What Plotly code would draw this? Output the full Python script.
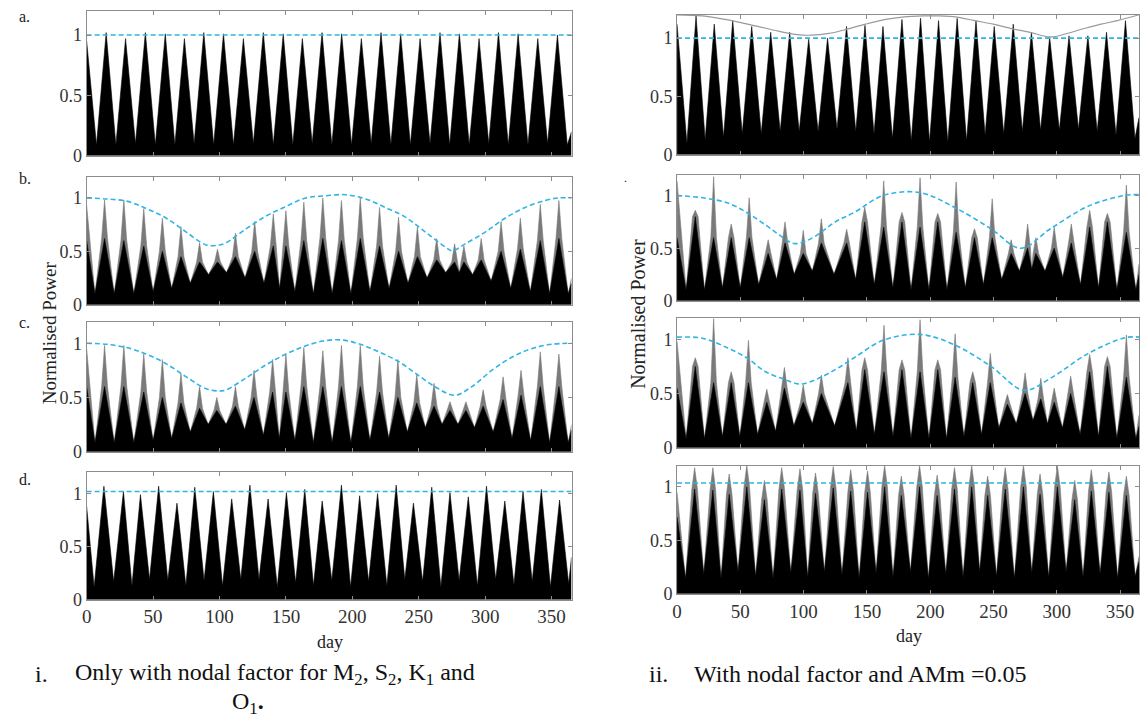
import plotly.graph_objects as go

W, H = 1143, 728
SERIF = "Liberation Serif, Times New Roman, Times, serif"
FRAME = "#8c8c8c"
SPIKE = "#7a7a7a"
CYAN = "#2fb4e6"
DAY_END = 365
SPIKE_HALF_WIDTH = 2.2   # days either side of a spring peak where the grey spike starts

# ---------------- i. nodal factor only ----------------
# a. spring-tide peaks, neap lows (before first, between peaks, after last)
ia_days = [14.7, 29.3, 44.2, 59.2, 73.6, 88.2, 103.0, 118.0, 133.0, 148.0, 162.4, 177.2,
           192.0, 206.8, 221.6, 236.4, 251.0, 266.0, 280.6, 295.4, 310.0, 324.8, 339.6, 354.4]
ia_peak = [1.02, 0.97, 1.02, 1.01, 0.97, 1.02, 1.01, 0.97, 1.02, 1.01, 0.97, 1.02,
           1.01, 0.97, 1.02, 1.01, 0.97, 1.02, 1.01, 0.97, 1.02, 1.01, 0.97, 1.0]
ia_low = [0.09, 0.09, 0.1, 0.09, 0.09, 0.1, 0.09, 0.09, 0.1, 0.09, 0.09, 0.1, 0.09,
          0.09, 0.1, 0.09, 0.09, 0.1, 0.09, 0.09, 0.1, 0.09, 0.09, 0.1, 0.09]
ia_edges = [0.95, 0.2]
ia_level = 1.0

# b.
ib_days = [13.5, 28.0, 43.0, 57.0, 71.0, 85.0, 98.5, 112.0, 126.5, 140.5, 150.0, 163.5, 177.8,
           191.8, 206.0, 220.5, 234.8, 249.0, 263.5, 277.0, 284.0, 297.0, 312.0, 326.5, 341.5, 355.5]
ib_top = [0.98, 0.98, 0.90, 0.81, 0.73, 0.58, 0.52, 0.67, 0.78, 0.85, 0.88, 0.96, 1.0,
          0.975, 1.0, 0.91, 0.82, 0.73, 0.62, 0.57, 0.55, 0.62, 0.78, 0.81, 0.94, 0.975]
ib_core = [0.62, 0.6, 0.55, 0.5, 0.45, 0.4, 0.4, 0.45, 0.5, 0.55, 0.55, 0.6, 0.62,
           0.6, 0.62, 0.55, 0.5, 0.45, 0.42, 0.4, 0.4, 0.42, 0.5, 0.52, 0.6, 0.62]
ib_low = [0.1, 0.1, 0.1, 0.12, 0.15, 0.2, 0.28, 0.3, 0.25, 0.2, 0.15, 0.12, 0.1, 0.1,
          0.1, 0.12, 0.15, 0.2, 0.25, 0.3, 0.3, 0.28, 0.22, 0.15, 0.12, 0.1, 0.1]
ib_edges_top = [0.93, 0.25]
ib_edges_core = [0.6, 0.2]
ib_env_days = [0, 15, 30, 45, 60, 75, 90, 100, 105, 120, 135, 150, 165, 180, 195, 210,
               225, 240, 255, 270, 275, 285, 300, 315, 330, 345, 355, 365]
ib_env = [1.0, 0.99, 0.97, 0.90, 0.81, 0.68, 0.56, 0.56, 0.58, 0.71, 0.83, 0.92, 1.0, 1.02,
          1.03, 0.99, 0.91, 0.82, 0.68, 0.54, 0.505, 0.57, 0.68, 0.81, 0.91, 0.975, 1.0, 1.0]

# c.
ic_days = [13.5, 28.0, 43.0, 57.0, 71.0, 85.0, 98.0, 112.0, 126.0, 140.0, 150.0, 163.5, 177.8,
           191.8, 206.0, 220.5, 234.3, 248.5, 261.5, 273.5, 285.5, 298.5, 313.5, 327.0, 341.5, 355.5]
ic_top = [0.98, 0.98, 0.90, 0.85, 0.72, 0.60, 0.50, 0.60, 0.75, 0.85, 0.90, 0.96, 0.93,
          0.98, 0.98, 0.88, 0.85, 0.71, 0.63, 0.46, 0.46, 0.57, 0.69, 0.75, 0.92, 0.90]
ic_core = [0.6, 0.6, 0.55, 0.5, 0.45, 0.4, 0.38, 0.42, 0.5, 0.55, 0.55, 0.6, 0.6,
           0.6, 0.6, 0.55, 0.5, 0.45, 0.42, 0.38, 0.38, 0.42, 0.48, 0.52, 0.6, 0.6]
ic_low = [0.08, 0.08, 0.08, 0.1, 0.12, 0.18, 0.25, 0.25, 0.2, 0.15, 0.12, 0.1, 0.08, 0.08,
          0.08, 0.1, 0.12, 0.18, 0.22, 0.25, 0.25, 0.22, 0.18, 0.12, 0.1, 0.08, 0.08]
ic_edges_top = [0.95, 0.25]
ic_edges_core = [0.6, 0.2]
ic_env_days = [0, 15, 30, 45, 60, 75, 90, 100, 105, 120, 135, 150, 163.5, 177.8, 191.8, 206,
               220, 235, 249, 263.5, 277, 290, 305, 320, 335, 350, 365]
ic_env = [1.0, 0.99, 0.96, 0.90, 0.81, 0.69, 0.58, 0.56, 0.57, 0.68, 0.80, 0.90, 0.97, 1.02,
          1.03, 0.99, 0.92, 0.83, 0.71, 0.59, 0.52, 0.60, 0.75, 0.87, 0.95, 0.99, 1.0]

# d.
id_days = [13.0, 27.7, 40.5, 54.2, 68.0, 81.4, 95.4, 109.2, 122.9, 136.6, 150.4, 164.2, 177.3,
           191.8, 205.5, 219.0, 233.0, 246.0, 259.8, 273.5, 287.3, 301.0, 314.8, 328.5, 342.3, 356.0]
id_peak = [1.07, 1.02, 0.99, 1.07, 0.91, 1.06, 1.02, 0.95, 1.08, 0.95, 1.01, 1.04, 0.93,
           1.08, 0.98, 1.0, 1.08, 0.91, 1.06, 1.01, 0.97, 1.07, 0.93, 1.02, 1.04, 0.94]
id_low = [0.12, 0.17, 0.13, 0.19, 0.18, 0.13, 0.18, 0.13, 0.19, 0.19, 0.12, 0.16, 0.13, 0.18,
          0.12, 0.17, 0.13, 0.19, 0.17, 0.12, 0.18, 0.13, 0.19, 0.14, 0.17, 0.12, 0.15]
id_edges = [0.88, 0.4]
id_level = 1.02

# ---------------- ii. nodal factor and AMm = 0.05 ----------------
iia_days = [15.0, 29.4, 44.0, 59.0, 74.0, 89.0, 104.0, 118.9, 133.9, 148.5, 162.7, 177.7,
            192.4, 206.6, 221.3, 236.2, 250.6, 265.6, 280.0, 294.4, 309.7, 324.6, 339.3, 354.3]
iia_peak = [1.19, 1.12, 1.15, 1.1, 1.05, 1.05, 0.99, 1.0, 1.1, 1.11, 1.1, 1.16,
            1.17, 1.15, 1.17, 1.15, 1.1, 1.12, 1.05, 1.01, 1.02, 1.02, 1.05, 1.15]
iia_low = [0.1, 0.13, 0.15, 0.18, 0.18, 0.2, 0.2, 0.2, 0.22, 0.2, 0.18, 0.14, 0.12,
           0.11, 0.11, 0.12, 0.17, 0.18, 0.2, 0.21, 0.21, 0.22, 0.2, 0.17, 0.14]
iia_edges = [1.12, 0.32]
iia_level = 1.0
iia_trend_days = [0, 20, 38, 60, 80, 95, 106, 120, 132, 149, 165, 178, 195, 207, 221, 235,
                  250, 265, 279, 295, 308, 321, 335, 348, 365]
iia_trend = [1.2, 1.19, 1.16, 1.11, 1.06, 1.03, 1.025, 1.04, 1.07, 1.12, 1.16, 1.18, 1.19,
             1.19, 1.18, 1.15, 1.12, 1.08, 1.05, 1.01, 1.04, 1.08, 1.12, 1.15, 1.2]

iib_days = [14.4, 28.9, 42.8, 57.0, 72.0, 85.3, 99.7, 114.0, 134.0, 148.3, 163.3, 177.7, 192.0,
            206.0, 220.5, 235.0, 249.0, 264.0, 277.0, 283.5, 298.0, 311.5, 326.0, 340.0, 355.0]
iib_top = [0.86, 1.18, 0.73, 0.98, 0.58, 0.75, 0.67, 0.78, 0.68, 0.89, 1.14, 0.84, 1.17,
           0.83, 1.13, 0.685, 0.97, 0.58, 0.73, 0.6, 0.7, 0.73, 0.86, 0.83, 1.1]
iib_core = [0.8, 0.6, 0.6, 0.6, 0.45, 0.55, 0.45, 0.55, 0.55, 0.75, 0.7, 0.75, 0.7,
            0.75, 0.65, 0.6, 0.6, 0.45, 0.5, 0.45, 0.5, 0.55, 0.7, 0.75, 0.65]
iib_low = [0.1, 0.1, 0.12, 0.12, 0.15, 0.2, 0.25, 0.28, 0.25, 0.2, 0.15, 0.12, 0.1, 0.1,
           0.1, 0.12, 0.15, 0.2, 0.28, 0.3, 0.28, 0.22, 0.15, 0.12, 0.1, 0.1]
iib_edges_top = [1.14, 0.35]
iib_edges_core = [0.6, 0.25]
iib_env_days = [0, 20, 40, 55, 70, 85, 92, 100, 110, 125, 140, 162.7, 191.5, 219, 248,
                271.6, 295, 325, 353, 365]
iib_env = [1.0, 0.98, 0.93, 0.84, 0.72, 0.59, 0.545, 0.56, 0.62, 0.75, 0.84, 1.0, 1.03,
           0.89, 0.685, 0.5, 0.685, 0.9, 1.0, 1.01]

iic_days = [14.4, 28.9, 42.8, 56.4, 70.9, 84.8, 99.7, 114.0, 135.0, 148.3, 163.5, 177.7, 192.0,
            206.0, 219.7, 233.6, 247.5, 261.0, 275.0, 287.4, 298.0, 311.0, 326.0, 340.0, 355.0]
iic_top = [0.83, 1.19, 0.7, 0.99, 0.54, 0.74, 0.58, 0.67, 0.83, 0.83, 1.13, 0.81, 1.18,
           0.81, 1.05, 0.7, 0.87, 0.49, 0.69, 0.64, 0.55, 0.66, 0.86, 0.84, 1.04]
iic_core = [0.75, 0.6, 0.6, 0.6, 0.42, 0.55, 0.42, 0.5, 0.6, 0.72, 0.7, 0.72, 0.7,
            0.72, 0.65, 0.6, 0.6, 0.4, 0.5, 0.45, 0.42, 0.5, 0.7, 0.75, 0.65]
iic_low = [0.08, 0.08, 0.1, 0.1, 0.12, 0.15, 0.2, 0.22, 0.2, 0.15, 0.12, 0.1, 0.08, 0.08,
           0.08, 0.1, 0.12, 0.18, 0.22, 0.25, 0.22, 0.18, 0.12, 0.1, 0.08, 0.08]
iic_edges_top = [0.98, 0.3]
iic_edges_core = [0.55, 0.2]
iic_env_days = [0, 20, 40, 55, 70, 85, 95, 100, 110, 125, 140, 162.7, 191.5, 219, 248,
                274, 295, 325, 354, 365]
iic_env = [1.02, 1.01, 0.92, 0.83, 0.70, 0.63, 0.59, 0.59, 0.63, 0.72, 0.83, 0.99, 1.045,
           0.95, 0.75, 0.53, 0.64, 0.87, 1.015, 1.02]

iid_days = [13.9, 28.3, 41.2, 55.1, 69.0, 82.7, 97.1, 109.4, 123.4, 137.2, 150.5, 164.0, 177.2,
            191.6, 205.5, 219.2, 232.8, 245.4, 259.3, 273.7, 286.8, 300.5, 314.2, 327.3, 341.2, 355.0]
iid_top = [1.18, 1.18, 1.12, 1.2, 1.06, 1.18, 1.17, 1.13, 1.19, 1.16, 1.15, 1.2, 1.1,
           1.2, 1.11, 1.18, 1.2, 1.1, 1.18, 1.2, 1.12, 1.2, 1.06, 1.16, 1.14, 1.1]
iid_core = [0.98, 0.97, 0.93, 1.0, 0.88, 0.98, 0.97, 0.94, 0.99, 0.96, 0.95, 1.0, 0.92,
            1.0, 0.92, 0.98, 1.0, 0.92, 0.98, 1.0, 0.93, 1.0, 0.88, 0.96, 0.95, 0.92]
iid_low = [0.14, 0.18, 0.14, 0.2, 0.16, 0.14, 0.19, 0.15, 0.2, 0.17, 0.14, 0.19, 0.15, 0.2,
           0.14, 0.18, 0.15, 0.2, 0.16, 0.14, 0.19, 0.15, 0.2, 0.15, 0.18, 0.14, 0.16]
iid_edges_top = [0.95, 0.35]
iid_edges_core = [0.72, 0.3]
iid_level = 1.037


def profile(days, peaks, lows, edges, shoulders=None):
    """Polyline: start value, neap lows and spring peaks, end value.

    With shoulders, each peak becomes a narrow spike rising from the
    shoulder height a little before and after the peak day."""
    xs, ys = [0.0], [edges[0]]
    pre = days[0] - (days[1] - days[0]) / 2
    if pre > 0:
        xs.append(pre)
        ys.append(lows[0])
    for i, (d, p) in enumerate(zip(days, peaks)):
        if shoulders is None:
            xs.append(d)
            ys.append(p)
        else:
            xs += [d - SPIKE_HALF_WIDTH, d, d + SPIKE_HALF_WIDTH]
            ys += [shoulders[i], p, shoulders[i]]
        if i < len(days) - 1:
            xs.append((d + days[i + 1]) / 2)
            ys.append(lows[i + 1])
    post = days[-1] + (days[-1] - days[-2]) / 2
    if post < DAY_END:
        xs.append(post)
        ys.append(lows[-1])
    xs.append(DAY_END)
    ys.append(edges[1])
    return xs, ys


def px_dom_x(x0, x1):
    return [x0 / W, x1 / W]


def px_dom_y(top, bottom):
    return [1 - bottom / H, 1 - top / H]


LEFT = (82, 569)
RIGHT = (675, 1139)
panels = {
    "ia": (LEFT, (11, 158)),
    "ib": (LEFT, (179, 309)),
    "ic": (LEFT, (326, 458)),
    "id": (LEFT, (479, 608)),
    "iia": (RIGHT, (15, 157)),
    "iib": (RIGHT, (177, 305)),
    "iic": (RIGHT, (322, 454)),
    "iid": (RIGHT, (472, 602)),
}

fig = go.Figure()
layout = {}
for k, (name, ((x0, x1), (top, bottom))) in enumerate(panels.items(), start=1):
    sfx = "" if k == 1 else str(k)
    last = name in ("id", "iid")
    layout["xaxis" + sfx] = dict(
        domain=px_dom_x(x0, x1), anchor="y" + sfx, range=[0, DAY_END],
        tickvals=[0, 50, 100, 150, 200, 250, 300, 350], showticklabels=last,
        ticks="inside", ticklen=4, tickcolor=FRAME, showline=True, linecolor=FRAME,
        linewidth=1, mirror="ticks", showgrid=False, zeroline=False,
        tickfont=dict(family=SERIF, size=19, color="#333333"),
    )
    layout["yaxis" + sfx] = dict(
        domain=px_dom_y(top, bottom), anchor="x" + sfx, range=[0, 1.2],
        tickvals=[0, 0.5, 1], ticktext=["0", "0.5", "1"], ticks="inside", ticklen=4,
        tickcolor=FRAME, showline=True, linecolor=FRAME, linewidth=1, mirror="ticks",
        showgrid=False, zeroline=False,
        tickfont=dict(family=SERIF, size=18, color="#333333"),
    )

axis_of = {name: ("x" + ("" if k == 1 else str(k)), "y" + ("" if k == 1 else str(k)))
           for k, name in enumerate(panels, start=1)}


def add_fill(name, xs, ys, color):
    xa, ya = axis_of[name]
    fig.add_trace(go.Scatter(x=xs, y=ys, mode="lines", fill="tozeroy", fillcolor=color,
                             line=dict(color=color, width=0.6), xaxis=xa, yaxis=ya,
                             hoverinfo="skip", showlegend=False))


def add_dashed(name, xs, ys):
    xa, ya = axis_of[name]
    fig.add_trace(go.Scatter(x=xs, y=ys, mode="lines",
                             line=dict(color=CYAN, width=1.6, dash="5px,3px", shape="spline"),
                             xaxis=xa, yaxis=ya, hoverinfo="skip", showlegend=False))


# single-tone panels
for name, days, peaks, lows, edges, level in [
    ("ia", ia_days, ia_peak, ia_low, ia_edges, ia_level),
    ("id", id_days, id_peak, id_low, id_edges, id_level),
    ("iia", iia_days, iia_peak, iia_low, iia_edges, iia_level),
]:
    xs, ys = profile(days, peaks, lows, edges)
    add_fill(name, xs, ys, "#000000")
    add_dashed(name, [0, DAY_END], [level, level])

# grey trend of the spring peaks in ii-a
fig.add_trace(go.Scatter(x=iia_trend_days, y=iia_trend, mode="lines",
                         line=dict(color="#9a9a9a", width=1.2, shape="spline"),
                         xaxis=axis_of["iia"][0], yaxis=axis_of["iia"][1],
                         hoverinfo="skip", showlegend=False))

# two-tone panels: narrow grey spikes over a black core
for name, days, top, core, lows, e_top, e_core in [
    ("ib", ib_days, ib_top, ib_core, ib_low, ib_edges_top, ib_edges_core),
    ("ic", ic_days, ic_top, ic_core, ic_low, ic_edges_top, ic_edges_core),
    ("iib", iib_days, iib_top, iib_core, iib_low, iib_edges_top, iib_edges_core),
    ("iic", iic_days, iic_top, iic_core, iic_low, iic_edges_top, iic_edges_core),
    ("iid", iid_days, iid_top, iid_core, iid_low, iid_edges_top, iid_edges_core),
]:
    xs, ys = profile(days, top, lows, e_top, shoulders=core)
    add_fill(name, xs, ys, SPIKE)
    xs, ys = profile(days, core, lows, e_core)
    add_fill(name, xs, ys, "#000000")

add_dashed("ib", ib_env_days, ib_env)
add_dashed("ic", ic_env_days, ic_env)
add_dashed("iib", iib_env_days, iib_env)
add_dashed("iic", iic_env_days, iic_env)
add_dashed("iid", [0, 355], [iid_level, iid_level])


def note(text, x, y, size, xanchor="center", angle=0, color="#222222"):
    return dict(text=text, x=x / W, y=1 - y / H, xref="paper", yref="paper",
                showarrow=False, xanchor=xanchor, yanchor="middle", textangle=angle,
                font=dict(family=SERIF, size=size, color=color))


annotations = [
    note("a.", 12, 17, 16, "left"),
    note("b.", 12, 181, 16, "left"),
    note("c.", 12, 327, 16, "left"),
    note("d.", 12, 486, 16, "left"),
    note(".", 620, 180, 12, "left"),
    note("Normalised Power", 45, 337, 19, angle=-90),
    note("Normalised Power", 635, 318, 20, angle=-90),
    note("day", 326, 651, 18),
    note("day", 908, 645, 18),
    note("i.", 28, 683, 24, "left", color="#111111"),
    note("Only with nodal factor for M<sub>2</sub>, S<sub>2</sub>, K<sub>1</sub> and",
         68, 683, 24, "left", color="#111111"),
    note("O<sub>1</sub><b>.</b>", 226, 713, 24, "left", color="#111111"),
    note("ii.", 645, 683, 24, "left", color="#111111"),
    note("With nodal factor and AMm =0.05", 690, 683, 24, "left", color="#111111"),
]

fig.update_layout(
    width=W, height=H, autosize=False, margin=dict(l=0, r=0, t=0, b=0),
    paper_bgcolor="white", plot_bgcolor="white", showlegend=False,
    annotations=annotations, **layout,
)

fig.write_html("out.html")
